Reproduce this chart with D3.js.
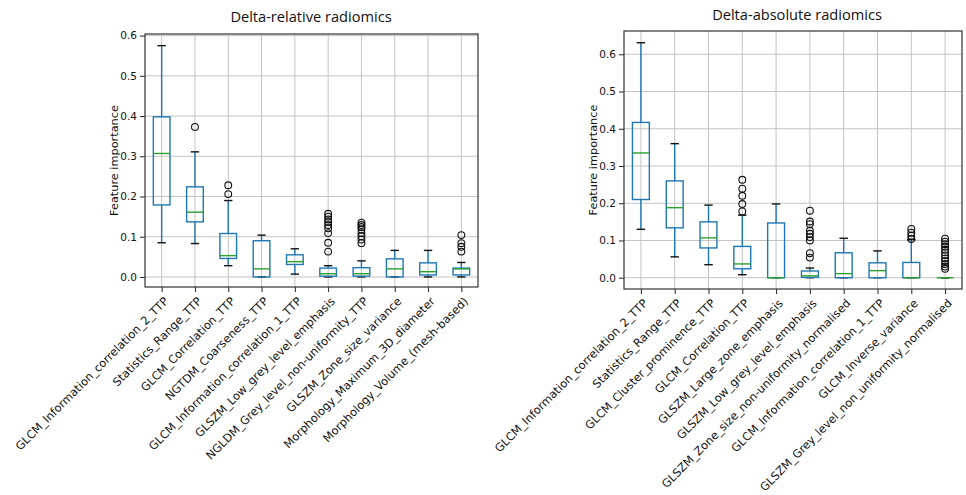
<!DOCTYPE html>
<html>
<head>
<meta charset="utf-8">
<script src="https://cdn.jsdelivr.net/npm/d3@7"></script>
<style>
  body { margin: 0; background: #fff; }
  text { font-family: "DejaVu Sans", sans-serif; fill: #111; }
</style>
</head>
<body>
<div id="chart"></div>
<script>
// ---- Delta-relative radiomics ----
const relCategories = [
    'GLCM_Information_correlation_2_TTP',
    'Statistics_Range_TTP',
    'GLCM_Correlation_TTP',
    'NGTDM_Coarseness_TTP',
    'GLCM_Information_correlation_1_TTP',
    'GLSZM_Low_grey_level_emphasis',
    'NGLDM_Grey_level_non-uniformity_TTP',
    'GLSZM_Zone_size_variance',
    'Morphology_Maximum_3D_diameter',
    'Morphology_Volume_(mesh-based)'
];
const relWhiskerLow = [0.085, 0.083, 0.028, 0, 0.007, 0, 0, 0, 0, 0];
const relQ1 = [0.179, 0.137, 0.046, 0, 0.031, 0.002, 0.002, 0, 0.005, 0.005];
const relMedian = [0.307, 0.161, 0.053, 0.02, 0.038, 0.008, 0.008, 0.02, 0.013, 0.02];
const relQ3 = [0.398, 0.224, 0.108, 0.09, 0.055, 0.022, 0.023, 0.045, 0.035, 0.022];
const relWhiskerHigh = [0.575, 0.311, 0.19, 0.104, 0.07, 0.028, 0.04, 0.066, 0.066, 0.036];
const relOutliers = [
    [],
    [0.373],
    [0.228, 0.206],
    [],
    [],
    [0.157, 0.15, 0.143, 0.137, 0.129, 0.121, 0.109, 0.085, 0.063],
    [0.135, 0.129, 0.124, 0.118, 0.109, 0.101, 0.093, 0.084],
    [],
    [],
    [0.104, 0.084, 0.075, 0.063]
];

// ---- Delta-absolute radiomics ----
const absCategories = [
    'GLCM_Information_correlation_2_TTP',
    'Statistics_Range_TTP',
    'GLCM_Cluster_prominence_TTP',
    'GLCM_Correlation_TTP',
    'GLSZM_Large_zone_emphasis',
    'GLSZM_Low_grey_level_emphasis',
    'GLSZM_Zone_size_non-uniformity_normalised',
    'GLCM_Information_correlation_1_TTP',
    'GLCM_Inverse_variance',
    'GLSZM_Grey_level_non_uniformity_normalised'
];
const absWhiskerLow = [0.13, 0.056, 0.035, 0.008, 0, 0, 0, 0, 0, 0];
const absQ1 = [0.21, 0.134, 0.08, 0.024, 0, 0.001, 0, 0, 0, 0];
const absMedian = [0.335, 0.188, 0.107, 0.037, 0, 0.005, 0.011, 0.019, 0, 0];
const absQ3 = [0.417, 0.26, 0.15, 0.084, 0.147, 0.018, 0.067, 0.04, 0.041, 0];
const absWhiskerHigh = [0.631, 0.36, 0.195, 0.168, 0.198, 0.026, 0.106, 0.072, 0.102, 0];
const absOutliers = [
    [],
    [],
    [],
    [0.263, 0.239, 0.22, 0.198, 0.178],
    [],
    [0.18, 0.151, 0.144, 0.126, 0.118, 0.109, 0.1, 0.066, 0.054],
    [],
    [],
    [0.131, 0.121, 0.113, 0.104],
    [0.105, 0.097, 0.09, 0.083, 0.075, 0.068, 0.06, 0.052, 0.045, 0.037, 0.03, 0.024]
];

const yTicks = [0, 0.1, 0.2, 0.3, 0.4, 0.5, 0.6];

const width = 966;
const height = 495;

const svg = d3.select('#chart')
    .append('svg')
    .attr('width', width)
    .attr('height', height);

svg.append('rect').attr('width', width).attr('height', height).attr('fill', '#fff');

function drawPanel(p) {
    const g = svg.append('g');

    const x = d3.scalePoint()
        .domain(p.categories)
        .range([p.left, p.right])
        .padding(0.5);
    const y = d3.scaleLinear()
        .domain(p.yDomain)
        .range([p.bottom, p.top]);

    const boxW = x.step() * 0.5;
    const capW = boxW * 0.5;

    // grid
    g.append('g').selectAll('line')
        .data(yTicks)
        .enter().append('line')
        .attr('x1', p.left).attr('x2', p.right)
        .attr('y1', d => y(d)).attr('y2', d => y(d))
        .attr('stroke', '#c4c4c4').attr('stroke-width', 1);
    g.append('g').selectAll('line')
        .data(p.categories)
        .enter().append('line')
        .attr('x1', d => x(d)).attr('x2', d => x(d))
        .attr('y1', p.top).attr('y2', p.bottom)
        .attr('stroke', '#c4c4c4').attr('stroke-width', 1);

    const stats = p.categories.map((c, i) => ({
        cat: c,
        lo: p.lo[i], q1: p.q1[i], med: p.med[i], q3: p.q3[i], hi: p.hi[i],
        out: p.out[i]
    }));

    const box = g.selectAll('g.box')
        .data(stats)
        .enter().append('g')
        .attr('class', 'box');

    // whiskers
    box.append('line')
        .attr('x1', d => x(d.cat)).attr('x2', d => x(d.cat))
        .attr('y1', d => y(d.q1)).attr('y2', d => y(d.lo))
        .attr('stroke', '#1f77b4').attr('stroke-width', 1.4);
    box.append('line')
        .attr('x1', d => x(d.cat)).attr('x2', d => x(d.cat))
        .attr('y1', d => y(d.q3)).attr('y2', d => y(d.hi))
        .attr('stroke', '#1f77b4').attr('stroke-width', 1.4);

    // caps
    box.selectAll('line.cap')
        .data(d => [d.lo, d.hi].map(v => ({cat: d.cat, v: v})))
        .enter().append('line')
        .attr('class', 'cap')
        .attr('x1', d => x(d.cat) - capW / 2).attr('x2', d => x(d.cat) + capW / 2)
        .attr('y1', d => y(d.v)).attr('y2', d => y(d.v))
        .attr('stroke', '#111').attr('stroke-width', 1.4);

    // boxes
    box.append('rect')
        .attr('x', d => x(d.cat) - boxW / 2)
        .attr('width', boxW)
        .attr('y', d => y(d.q3))
        .attr('height', d => y(d.q1) - y(d.q3))
        .attr('fill', 'none')
        .attr('stroke', '#1f77b4').attr('stroke-width', 1.4);

    // medians
    box.append('line')
        .attr('x1', d => x(d.cat) - boxW / 2).attr('x2', d => x(d.cat) + boxW / 2)
        .attr('y1', d => y(d.med)).attr('y2', d => y(d.med))
        .attr('stroke', '#2ca02c').attr('stroke-width', 1.4);

    // fliers
    box.selectAll('circle')
        .data(d => d.out.map(v => ({cat: d.cat, v: v})))
        .enter().append('circle')
        .attr('cx', d => x(d.cat))
        .attr('cy', d => y(d.v))
        .attr('r', 3.4)
        .attr('fill', 'none')
        .attr('stroke', '#111').attr('stroke-width', 1.1);

    // axes
    const yAxis = g.append('g')
        .attr('transform', `translate(${p.left},0)`)
        .call(d3.axisLeft(y).tickValues(yTicks).tickFormat(d3.format('.1f')).tickSize(5).tickPadding(3));
    yAxis.select('.domain').remove();
    yAxis.selectAll('text').style('font-size', '10.5px').style('font-family', '"DejaVu Sans", sans-serif').attr('fill', '#111');
    yAxis.selectAll('.tick line').attr('stroke', '#222');

    const xAxis = g.append('g')
        .attr('transform', `translate(0,${p.bottom})`)
        .call(d3.axisBottom(x).tickSize(5));
    xAxis.select('.domain').remove();
    xAxis.selectAll('.tick line').attr('stroke', '#222');
    xAxis.selectAll('text')
        .attr('x', 0).attr('y', 0).attr('dy', 0)
        .attr('transform', 'translate(7,15) rotate(-45)')
        .style('text-anchor', 'end')
        .style('font-size', '11.4px')
        .style('font-family', '"DejaVu Sans", sans-serif')
        .attr('fill', '#111');

    // frame
    g.append('rect')
        .attr('x', p.left).attr('y', p.top)
        .attr('width', p.right - p.left).attr('height', p.bottom - p.top)
        .attr('fill', 'none').attr('stroke', '#333').attr('stroke-width', 1.2);

    // y label
    g.append('text')
        .attr('transform', `translate(${p.yLabelX},${(p.top + p.bottom) / 2}) rotate(-90)`)
        .attr('text-anchor', 'middle')
        .attr('dy', '0.35em')
        .style('font-size', '11.3px')
        .text('Feature importance');

    // title
    g.append('text')
        .attr('x', p.titleX).attr('y', p.titleY)
        .attr('text-anchor', 'middle')
        .style('font-family', '"Open Sans", sans-serif')
        .style('font-size', '14.6px')
        .text(p.title);
}

drawPanel({
    title: 'Delta-relative radiomics',
    categories: relCategories,
    lo: relWhiskerLow, q1: relQ1, med: relMedian, q3: relQ3, hi: relWhiskerHigh, out: relOutliers,
    yDomain: [-0.025, 0.604],
    left: 145, right: 478, top: 34, bottom: 287,
    yLabelX: 114, titleX: 311, titleY: 22
});

drawPanel({
    title: 'Delta-absolute radiomics',
    categories: absCategories,
    lo: absWhiskerLow, q1: absQ1, med: absMedian, q3: absQ3, hi: absWhiskerHigh, out: absOutliers,
    yDomain: [-0.0303, 0.6625],
    left: 624, right: 962, top: 31, bottom: 289,
    yLabelX: 593, titleX: 797, titleY: 20
});
</script>
</body>
</html>
